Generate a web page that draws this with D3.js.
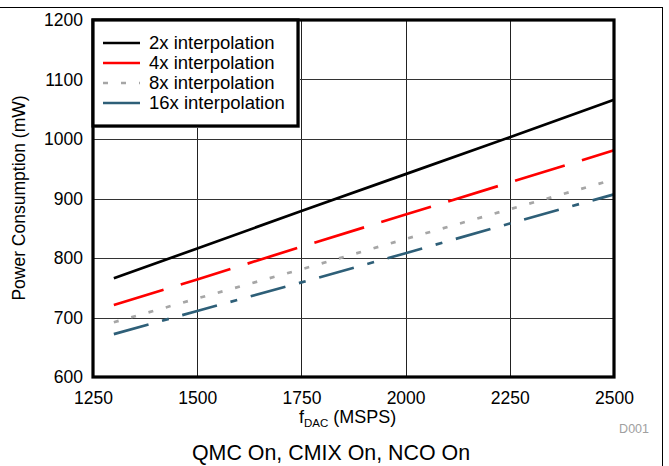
<!DOCTYPE html>
<html><head><meta charset="utf-8">
<script src="https://cdn.jsdelivr.net/npm/d3@7/dist/d3.min.js"></script>
<style>body{margin:0;background:#fff}svg{display:block;font-family:"Liberation Sans",Arial,sans-serif}</style>
</head><body><svg id="c" width="669" height="466"></svg>
<script>
const fdac = [1300, 1500, 1750, 2000, 2250, 2500];
const p2x  = [766, 816, 879, 941, 1003, 1066];
const p4x  = [721, 764, 819, 873, 927, 981];
const p8x  = [692, 732, 781, 832, 882, 932];
const p16x = [672, 711, 759, 808, 858, 907];
const seriesNames = ["2x interpolation","4x interpolation","8x interpolation","16x interpolation"];
const xTicks = [1250,1500,1750,2000,2250,2500];
const yTicks = [600,700,800,900,1000,1100,1200];

const svg = d3.select("#c");
const L=93,R=614,T=20,B=377;
const x = d3.scaleLinear().domain([1250,2500]).range([L,R]);
const y = d3.scaleLinear().domain([600,1200]).range([B,T]);
const FONT = "Liberation Sans, Arial, sans-serif";

// outer frame
svg.append("line").attr("x1",0).attr("x2",663).attr("y1",7.5).attr("y2",7.5).attr("stroke","#000").attr("stroke-width",1);
svg.append("line").attr("x1",662.5).attr("x2",662.5).attr("y1",7).attr("y2",466).attr("stroke","#000").attr("stroke-width",1);

// grid
svg.append("g").selectAll("line").data(xTicks.slice(1,-1)).join("line")
  .attr("x1",d=>Math.round(x(d))+0.5).attr("x2",d=>Math.round(x(d))+0.5).attr("y1",T).attr("y2",B)
  .attr("stroke","#222").attr("stroke-width",1);
svg.append("g").selectAll("line").data(yTicks.slice(1,-1)).join("line")
  .attr("y1",d=>Math.round(y(d))+0.5).attr("y2",d=>Math.round(y(d))+0.5).attr("x1",L).attr("x2",R)
  .attr("stroke","#333").attr("stroke-width",1);

// axes labels via d3 axes
const xa = svg.append("g").attr("transform",`translate(0,${B})`)
  .call(d3.axisBottom(x).tickValues(xTicks).tickSize(0).tickPadding(15).tickFormat(d3.format("d")));
xa.select(".domain").remove();
xa.selectAll("text").attr("font-size",17.5).attr("fill","#000").attr("font-family",FONT);
const ya = svg.append("g").attr("transform",`translate(${L},0)`)
  .call(d3.axisLeft(y).tickValues(yTicks).tickSize(0).tickPadding(10).tickFormat(d3.format("d")));
ya.select(".domain").remove();
ya.selectAll("text").attr("font-size",17.5).attr("fill","#000").attr("font-family",FONT);

// lines
const styles = [
  {color:"#000000", dash:null},
  {color:"#ff0000", dash:"52,18"},
  {color:"#a6a6a6", dash:"5,13"},
  {color:"#2e5f78", dash:"36,14,7,14"}
];
const data = [p2x,p4x,p8x,p16x];
const line = d3.line().x(d=>x(d[0])).y(d=>y(d[1]));
data.forEach((vals,i)=>{
  svg.append("path").datum(fdac.map((f,j)=>[f,vals[j]]))
    .attr("d",line).attr("fill","none").attr("stroke",styles[i].color)
    .attr("stroke-width",2.7).attr("stroke-dasharray",styles[i].dash);
});

// plot border
svg.append("rect").attr("x",L).attr("y",T).attr("width",R-L).attr("height",B-T)
  .attr("fill","none").attr("stroke","#000").attr("stroke-width",3.2);

// legend
const lg = svg.append("g");
lg.append("rect").attr("x",L+2).attr("y",T+2).attr("width",205).attr("height",106).attr("fill","#c8c8c8");
lg.append("rect").attr("x",L).attr("y",T).attr("width",205).attr("height",106)
  .attr("fill","#fff").attr("stroke","#000").attr("stroke-width",3.2);
seriesNames.forEach((n,i)=>{
  const yy = T+23+i*20;
  lg.append("line").attr("x1",103).attr("x2",140).attr("y1",yy).attr("y2",yy)
    .attr("stroke",styles[i].color).attr("stroke-width",2.7)
    .attr("stroke-dasharray", i===2?"5,13":null);
  lg.append("text").attr("x",149).attr("y",yy+5.5).attr("font-size",18.5).text(n);
});

// axis titles
const xt = svg.append("text").attr("x",299).attr("y",423).attr("font-size",18);
xt.append("tspan").text("f");
xt.append("tspan").attr("font-size",11.5).attr("dy",4).text("DAC");
xt.append("tspan").attr("dy",-4).text(" (MSPS)");
svg.append("text").attr("transform","translate(25,198) rotate(-90)").attr("text-anchor","middle")
  .attr("font-size",17.5).text("Power Consumption (mW)");
svg.append("text").attr("x",649).attr("y",433).attr("text-anchor","end").attr("font-size",12.5).attr("fill","#a0a0a0").text("D001");
svg.append("text").attr("x",331).attr("y",460).attr("text-anchor","middle").attr("font-size",21.4).text("QMC On, CMIX On, NCO On");
</script></body></html>
